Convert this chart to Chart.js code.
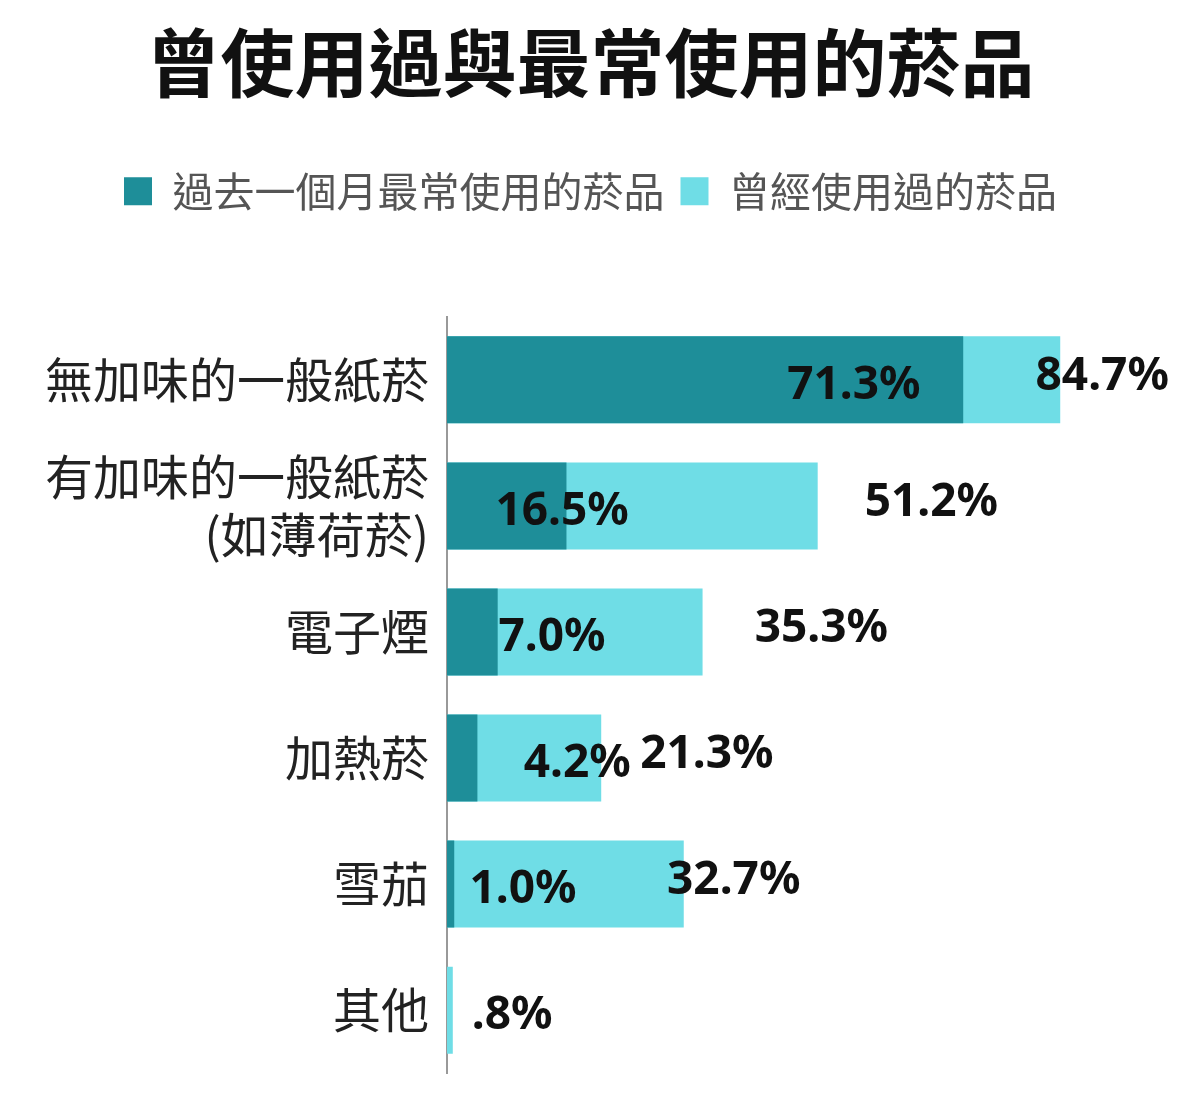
<!DOCTYPE html>
<html><head><meta charset="utf-8">
<script src="https://cdn.jsdelivr.net/npm/chart.js@4"></script>
<style>html,body{margin:0;background:#fff}#wrap{width:1200px;height:1120px}</style>
</head><body><div id="wrap"><canvas id="c"></canvas></div>
<script>
const categories = ['無加味的一般紙菸', ['有加味的一般紙菸', '(如薄荷菸)'], '電子煙', '加熱菸', '雪茄', '其他'];
const usedMonth = [71.3, 16.5, 7.0, 4.2, 1.0, null];
const usedEver = [84.7, 51.2, 35.3, 21.3, 32.7, 0.8];
const monthText = ['71.3%', '16.5%', '7.0%', '4.2%', '1.0%', '.8%'];
const everText = ['84.7%', '51.2%', '35.3%', '21.3%', '32.7%', ''];
// where the source put each label, in axis units
const monthLabelAt = [56.2, 15.9, 14.5, 18.0, 10.5, 9.0];
const everLabelAt = [90.5, 66.9, 51.7, 35.9, 39.6, 0];

const valueLabels = {
    id: 'valueLabels',
    afterDatasetsDraw(chart) {
        const ctx = chart.ctx, x = chart.scales.x, y = chart.scales.y;
        ctx.save();
        ctx.font = 'bold 46px "Noto Sans", sans-serif';
        ctx.fillStyle = '#111';
        ctx.textAlign = 'center';
        ctx.textBaseline = 'middle';
        categories.forEach((c, i) => {
            const cy = y.getPixelForValue(i);
            if (everText[i]) ctx.fillText(everText[i], x.getPixelForValue(everLabelAt[i]), cy - 3);
            ctx.fillText(monthText[i], x.getPixelForValue(monthLabelAt[i]), cy + 6);
        });
        ctx.restore();
    }
};

const legendGap = {
    id: 'legendGap',
    beforeInit(chart) {
        const fit = chart.legend.fit;
        chart.legend.fit = function () { fit.bind(chart.legend)(); this.height += 95; };
    }
};

new Chart(document.getElementById('c'), {
    type: 'bar',
    data: {
        labels: categories,
        datasets: [
            { label: '過去一個月最常使用的菸品', data: usedMonth, backgroundColor: '#1e8e99', order: 0, grouped: false, barPercentage: 0.69, categoryPercentage: 1 },
            { label: '曾經使用過的菸品', data: usedEver, backgroundColor: '#6fdde6', order: 1, grouped: false, barPercentage: 0.69, categoryPercentage: 1 }
        ]
    },
    options: {
        indexAxis: 'y',
        responsive: true,
        maintainAspectRatio: false,
        animation: false,
        layout: { padding: { left: 10, right: 29, top: 8, bottom: 25 } },
        scales: {
            x: { display: false, min: 0, max: 100 },
            y: {
                grid: { display: false, drawTicks: false },
                border: { color: '#999', width: 2 },
                ticks: { color: '#222', font: { size: 48, family: '"Noto Sans CJK TC", sans-serif' }, padding: 18 },
                afterFit(s) { s.width = 437; }
            }
        },
        plugins: {
            title: { display: true, text: '曾使用過與最常使用的菸品', color: '#111', font: { size: 74, weight: 'bold', family: '"Noto Sans CJK TC", sans-serif' }, padding: { top: 10, bottom: 48 } },
            legend: {
                labels: { boxWidth: 28, boxHeight: 28, color: '#555', font: { size: 41, family: '"Noto Sans CJK TC", sans-serif' }, padding: 16 }
            },
            tooltip: { enabled: false }
        }
    },
    plugins: [valueLabels, legendGap]
});
</script></body></html>
